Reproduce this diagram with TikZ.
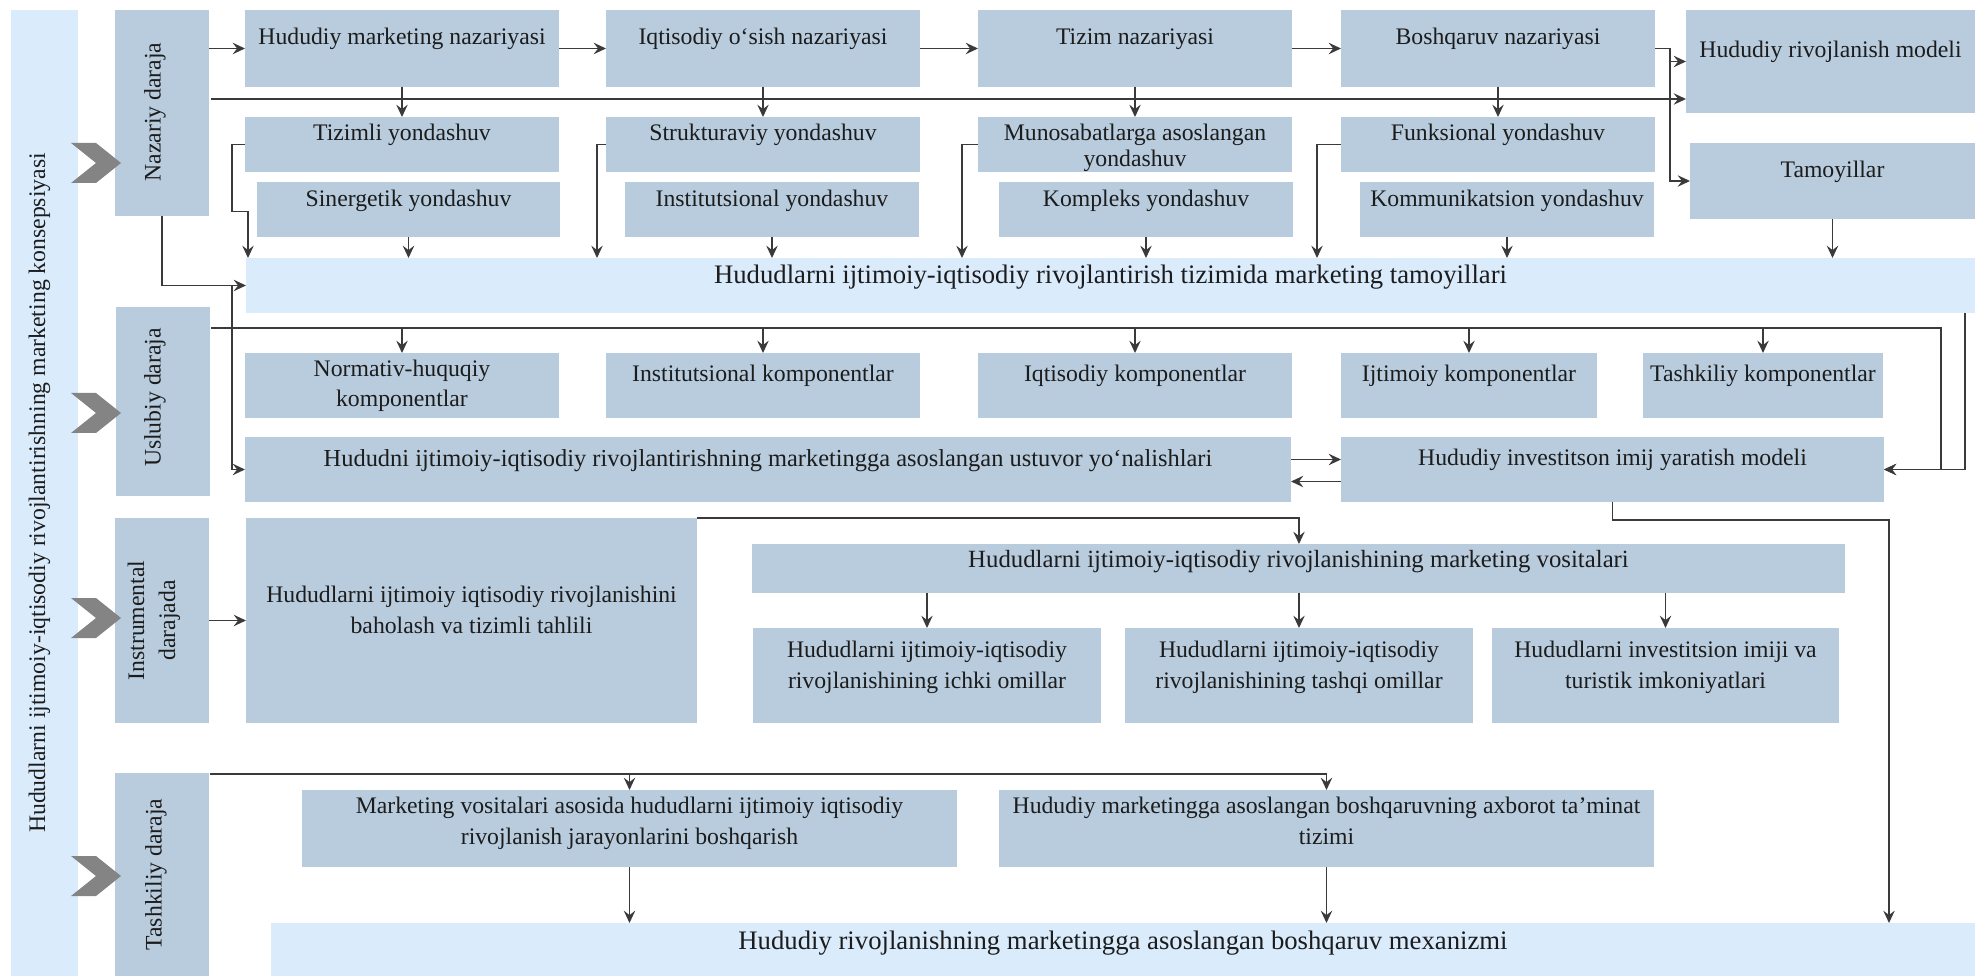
\documentclass[tikz,border=0pt]{standalone}
\usepackage{fontspec}
\setmainfont{Liberation Serif}
\usetikzlibrary{arrows.meta,calc,fit}
\definecolor{boxblue}{RGB}{184,204,222}
\definecolor{lightblue}{RGB}{218,235,252}
\definecolor{linegray}{RGB}{58,58,58}
\definecolor{chevgray}{RGB}{132,132,132}
\definecolor{txtcol}{RGB}{28,28,28}
\tikzset{
	box/.style={fill=boxblue, inner sep=0pt, outer sep=0pt},
	lbox/.style={fill=lightblue, inner sep=0pt, outer sep=0pt},
	txt/.style={anchor=base, align=center, inner sep=0pt, text=txtcol, font=\fontsize{13.5}{17.6}\selectfont},
	lvl/.style={rotate=90, align=center, inner sep=0pt, text=txtcol, font=\fontsize{13.5}{17.6}\selectfont},
	ln/.style={draw=linegray, line width=0.8pt},
	arr/.style={ln, -{Stealth[length=7pt,width=6.5pt,inset=2.5pt]}},
	chev/.style={fill=chevgray}
}
% box from corner to corner, baseline of the last text line #7 px under the top
\newcommand\blok[8][box]{%
	\node[#1, fit={(#3,#4) (#5,#6)}] (#2) {};
	\node[txt] (#2-t) at ($(#2.north)+(0,#7)$) {#8};}
\newcommand\bigfs{\fontsize{15.2}{18}\selectfont}

\begin{document}
\begin{tikzpicture}[x=0.02cm, y=-0.02cm]
			%%%%% START %%%%%
			\useasboundingbox (0,0) rectangle (1975,976);
			
			% left column
			\node[lbox, fit={(11,10) (78,976)}] (kons) {};
			\node[lvl] (kons-t) at ($(kons)+(-5,0)$) {Hududlarni ijtimoiy-iqtisodiy rivojlantirishning marketing konsepsiyasi};
			\node[box, fit={(115,10) (209,216)}] (naz) {};
			\node[lvl] (naz-t) at ($(naz)+(-7,-1)$) {Nazariy daraja};
			\node[box, fit={(116,307) (210,496)}] (usl) {};
			\node[lvl] (usl-t) at ($(usl)+(-8,-4)$) {Uslubiy daraja};
			\node[box, fit={(115,518) (209,723)}] (ins) {};
			\node[lvl] (ins-t) at ($(ins)+(-8,0)$) {Instrumental\\darajada};
			\node[box, fit={(115,773) (209,976)}] (tsh) {};
			\node[lvl] (tsh-t) at ($(tsh)+(-6,0)$) {Tashkiliy daraja};
			\foreach \c in {163,413,618,876}
				\fill[chev] (71,\c-20) -- (96,\c-20) -- (121,\c) -- (96,\c+20) -- (71,\c+20) -- (96,\c) -- cycle;
			
			% nazariy daraja
			\blok{hm}{245}{10}{559}{87}{35}{Hududiy marketing nazariyasi}
			\blok{io}{606}{10}{920}{87}{35}{Iqtisodiy o‘sish nazariyasi}
			\blok{tn}{978}{10}{1292}{87}{35}{Tizim nazariyasi}
			\blok{bn}{1341}{10}{1655}{87}{35}{Boshqaruv nazariyasi}
			\blok{rm}{1686}{10}{1975}{113}{48}{Hududiy rivojlanish modeli}
			\blok{tam}{1690}{143}{1975}{219}{35}{Tamoyillar}
			
			\blok{tiz}{245}{117}{559}{172}{24}{Tizimli yondashuv}
			\blok{str}{606}{117}{920}{172}{24}{Strukturaviy yondashuv}
			\node[box, fit={(978,117) (1292,172)}] (mun) {};
			\begin{scope}
				\clip (mun.north west) rectangle (mun.south east);
				\node[txt] (mun-t) at ($(mun.north)+(0,50)$) {Munosabatlarga asoslangan\\[-2.3pt]yondashuv};
			\end{scope}
			\blok{fun}{1341}{117}{1655}{172}{24}{Funksional yondashuv}
			\blok{sin}{257}{182}{560}{237}{25}{Sinergetik yondashuv}
			\blok{iny}{625}{182}{919}{237}{25}{Institutsional yondashuv}
			\blok{kom}{999}{182}{1293}{237}{25}{Kompleks yondashuv}
			\blok{kmm}{1360}{182}{1654}{237}{25}{Kommunikatsion yondashuv}
			\blok[lbox]{mt}{246}{258}{1975}{313}{26}{\bigfs Hududlarni ijtimoiy-iqtisodiy rivojlantirish tizimida marketing tamoyillari}
			
			% uslubiy daraja
			\blok{nh}{245}{353}{559}{418}{54}{Normativ-huquqiy\\komponentlar}
			\blok{ik}{606}{353}{920}{418}{29}{Institutsional komponentlar}
			\blok{iqk}{978}{353}{1292}{418}{29}{Iqtisodiy komponentlar}
			\blok{ijk}{1341}{353}{1597}{418}{29}{Ijtimoiy komponentlar}
			\blok{tsk}{1643}{353}{1883}{418}{29}{Tashkiliy komponentlar}
			\blok{ust}{245}{437}{1291}{502}{30}{\fontsize{13.9}{17.6}\selectfont Hududni ijtimoiy-iqtisodiy rivojlantirishning marketingga asoslangan ustuvor yo‘nalishlari}
			\blok{inv}{1341}{437}{1884}{502}{29}{Hududiy investitson imij yaratish modeli}
			
			% instrumental daraja
			\blok{bah}{246}{518}{697}{723}{115}{Hududlarni ijtimoiy iqtisodiy rivojlanishini\\baholash va tizimli tahlili}
			\blok{vos}{752}{544}{1845}{593}{23}{\fontsize{14.1}{17.6}\selectfont Hududlarni ijtimoiy-iqtisodiy rivojlanishining marketing vositalari}
			\blok{ich}{753}{628}{1101}{723}{60}{Hududlarni ijtimoiy-iqtisodiy\\rivojlanishining ichki omillar}
			\blok{tas}{1125}{628}{1473}{723}{60}{Hududlarni ijtimoiy-iqtisodiy\\rivojlanishining tashqi omillar}
			\blok{imj}{1492}{628}{1839}{723}{60}{Hududlarni investitsion imiji va\\turistik imkoniyatlari}
			
			% tashkiliy daraja
			\blok{mva}{302}{790}{957}{867}{54}{Marketing vositalari asosida hududlarni ijtimoiy iqtisodiy\\rivojlanish jarayonlarini boshqarish}
			\blok{axb}{999}{790}{1654}{867}{54}{Hududiy marketingga asoslangan boshqaruvning axborot ta’minat\\tizimi}
			\blok[lbox]{mex}{271}{923}{1975}{976}{26}{\bigfs Hududiy rivojlanishning marketingga asoslangan boshqaruv mexanizmi}
			
			% connectors
			\coordinate (busN) at (211,99);
			\draw[arr] (busN) -- (busN -| rm.west);
			\draw[arr] (naz.east |- hm.west) -- (hm.west);
			\foreach \a/\b in {hm/io,io/tn,tn/bn}
				\draw[arr] (\a.east) -- (\b.west);
			\foreach \a/\b in {hm/tiz,io/str,tn/mun,bn/fun}
				\draw[arr] (\a.south) -- (\b.north);
			\draw[ln] (bn.east) -- ++(15,0) coordinate (bk);
			\draw[arr] (bk) |- (rm.west);
			\draw[arr] (bk) |- (tam.west);
			
			\draw[arr] (tiz.west) -- ++(-13,0) coordinate (tk) -- ++(0,67) -| ($(mt.north west)+(2,0)$);
			\draw[arr] (str.west) -- ++(-9,0) coordinate (sk) -- (sk |- mt.north);
			\draw[arr] (mun.west) -- ++(-16,0) coordinate (mk) -- (mk |- mt.north);
			\draw[arr] (fun.west) -- ++(-24,0) coordinate (fk) -- (fk |- mt.north);
			\foreach \n in {sin,iny,kom,kmm,tam}
				\draw[arr] (\n.south) -- (\n.south |- mt.north);
			\draw[arr] (naz.south) |- (mt.west);
			\draw[arr] (tk |- mt.west) |- (ust.west);
			
			\coordinate (busU) at (211,328);
			\draw[arr] (busU) -- ++(1730,0) |- (inv.east);
			\foreach \n in {nh,ik,iqk,ijk,tsk}
				\draw[arr] (busU -| \n.north) -- (\n.north);
			\draw[arr] ($(mt.south east)+(-10,0)$) |- (inv.east);
			\draw[arr] ($(ust.east)+(0,-10)$) -- ($(inv.west)+(0,-10)$);
			\draw[arr] ($(inv.west)+(0,12)$) -- ($(ust.east)+(0,12)$);
			
			\draw[arr] (ins.east) -- (bah.west);
			\draw[arr] (bah.north east) -| (tas.north |- vos.north);
			\foreach \n in {ich,tas,imj}
				\draw[arr] (vos.south -| \n.north) -- (\n.north);
			\draw[arr] (inv.south) -- ++(0,18) -| ($(mex.north east)+(-86,0)$);
			
			\coordinate (busT) at (210,774);
			\draw[arr] (busT) -| (axb.north);
			\draw[arr] (busT -| mva.north) -- (mva.north);
			\draw[arr] (mva.south) -- (mva.south |- mex.north);
			\draw[arr] (axb.south) -- (axb.south |- mex.north);
			
			%%%%% END %%%%%
\end{tikzpicture}
\end{document}
